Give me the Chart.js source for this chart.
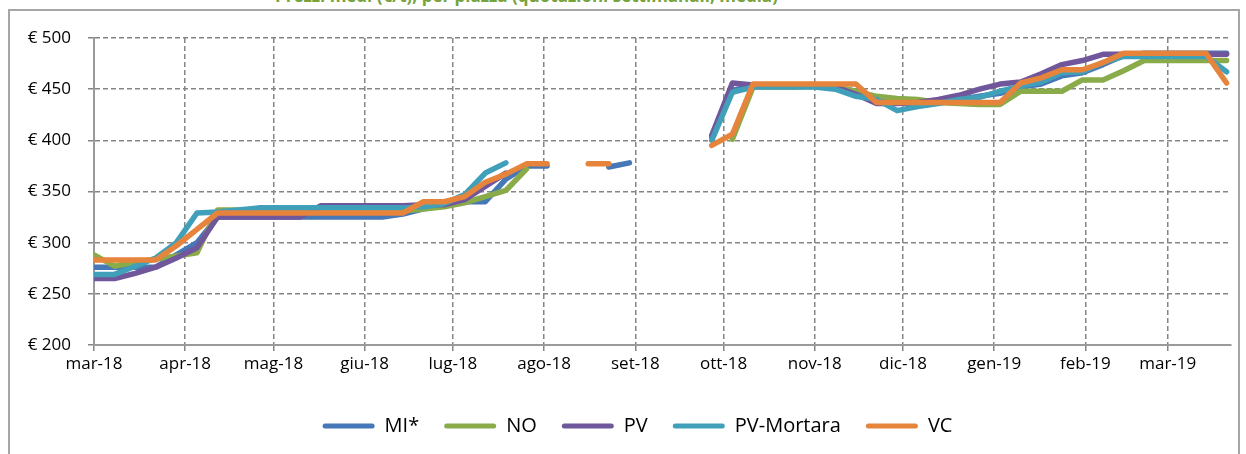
<!DOCTYPE html>
<html lang="it">
<head>
<meta charset="utf-8">
<title>Prezzi settimanali</title>
<script src="https://cdn.jsdelivr.net/npm/chart.js@4.4.1/dist/chart.umd.min.js"></script>
<style>
    html, body { margin: 0; padding: 0; background: #fff; }
    body { width: 1246px; height: 454px; position: relative; overflow: hidden; }
    #frame {
        position: absolute; left: 8px; top: 9px; width: 1232px; height: 470px;
        border: 2px solid #a6a6a6; box-sizing: border-box;
    }
    #title {
        position: absolute; left: 275px; top: -16px; white-space: nowrap;
        font: bold 17px 'Open Sans', sans-serif; color: #77a33c;
    }
    #mainChart { position: absolute; left: 0; top: 0; }
</style>
</head>
<body>
<div id="frame"></div>
<div id="title">Prezzi medi (€/t), per piazza (quotazioni settimanali, media)</div>
<canvas id="mainChart" width="1246" height="454"></canvas>

<script>
// ============================================================
// DATI — settimane (giovedì) e prezzi in €/t per piazza
// ============================================================
const weeks = [
    '2018-03-01', '2018-03-08', '2018-03-15', '2018-03-22', '2018-03-29',
    '2018-04-05', '2018-04-12', '2018-04-19', '2018-04-26',
    '2018-05-03', '2018-05-10', '2018-05-17', '2018-05-24', '2018-05-31',
    '2018-06-07', '2018-06-14', '2018-06-21', '2018-06-28',
    '2018-07-05', '2018-07-12', '2018-07-19', '2018-07-26',
    '2018-08-02', '2018-08-09', '2018-08-16', '2018-08-23', '2018-08-30',
    '2018-09-06', '2018-09-13', '2018-09-20', '2018-09-27',
    '2018-10-04', '2018-10-11', '2018-10-18', '2018-10-25',
    '2018-11-01', '2018-11-08', '2018-11-15', '2018-11-22', '2018-11-29',
    '2018-12-06', '2018-12-13', '2018-12-20', '2018-12-27',
    '2019-01-03', '2019-01-10', '2019-01-17', '2019-01-24', '2019-01-31',
    '2019-02-07', '2019-02-14', '2019-02-21', '2019-02-28',
    '2019-03-07', '2019-03-14', '2019-03-21'
];

const monthTicks = [
    '2018-03-01', '2018-04-01', '2018-05-01', '2018-06-01', '2018-07-01', '2018-08-01', '2018-09-01',
    '2018-10-01', '2018-11-01', '2018-12-01', '2019-01-01', '2019-02-01', '2019-03-01'
];
const monthLabels = ['mar-18', 'apr-18', 'mag-18', 'giu-18', 'lug-18', 'ago-18', 'set-18',
                     'ott-18', 'nov-18', 'dic-18', 'gen-19', 'feb-19', 'mar-19'];
const axisEnd = '2019-03-22';

const yTicks = [200, 250, 300, 350, 400, 450, 500];

const seriesNames = ['MI*', 'NO', 'PV', 'PV-Mortara', 'VC'];

const valuesMI = [
    276, 276, 276, 276, 288, 300, 325, 325, 325, 325, 325, 325, 325, 325, 325,
    328, 333, 336, 340, 340, 362, 375, 375, null, null, 374, 378, null, null, null,
    403, 449, 453, 453, 453, 453, 452, 448, 440, 437, 436, 437, 440, 443, 446,
    452, 455, 463, 466, 474, 483, 485, 485, 485, 485, 485
];
const valuesNO = [
    288, 277, 281, 284, 287, 290, 332, 332, 332, 332, 332, 332, 332, 332, 332,
    331, 333, 335, 339, 345, 351, 372, null, null, null, null, null, null, null, null,
    null, 401, 452, 452, 452, 453, 452, 448, 443, 441, 440, 437, 436, 435, 435,
    448, 448, 448, 459, 459, 468, 478, 478, 478, 478, 478
];
const valuesPV = [
    265, 265, 270, 276, 285, 295, 325, 325, 325, 325, 325, 336, 336, 336, 336,
    336, 337, 337, 342, 355, 368, null, null, null, null, null, null, null, null, null,
    405, 456, 454, 453, 453, 453, 452, 445, 436, 436, 437, 440, 444, 450, 455,
    457, 465, 474, 478, 484, 484, 484, 484, 484, 484, 484
];
const valuesMortara = [
    269, 269, 277, 285, 300, 329, 330, 332, 334, 334, 334, 334, 334, 334, 334,
    334, 335, 338, 347, 368, 378, null, null, null, null, null, null, null, null, null,
    400, 447, 452, 452, 452, 452, 450, 443, 440, 429, 433, 436, 440, 442, 448,
    453, 457, 466, 467, 476, 482, 482, 482, 482, 482, 467
];
const valuesVC = [
    283, 283, 283, 283, 297, 313, 329, 329, 329, 329, 329, 329, 329, 329, 329,
    329, 340, 340, 345, 359, 367, 377, 377, null, 377, 377, null, null, null, null,
    395, 406, 455, 455, 455, 455, 455, 455, 437, 437, 437, 437, 437, 437, 437,
    456, 461, 469, 469, 476, 485, 485, 485, 485, 485, 456
];

const seriesValues = [valuesMI, valuesNO, valuesPV, valuesMortara, valuesVC];
const seriesColors = ['#4677b6', '#8aab4a', '#70569b', '#40a0ba', '#e6843c'];

// ============================================================

const FONT = "'Open Sans', sans-serif";
const GRID = '#858585';
const dayOf = d => (Date.parse(d) - Date.parse(monthTicks[0])) / 86400000;

function buildDatasets() {
    return seriesNames.map((name, s) => ({
        label: name,
        data: weeks.map((w, i) => ({ x: dayOf(w), y: seriesValues[s][i] })),
        borderColor: seriesColors[s],
        backgroundColor: seriesColors[s],
        borderWidth: 5.5,
        borderCapStyle: 'round',
        borderJoinStyle: 'round',
        pointRadius: 0,
        tension: 0,
        spanGaps: false,
        order: seriesNames.length - s   // VC sopra, come in Excel
    }));
}

// la legenda nell'originale è centrata un po' più a destra
const legendShift = {
    id: 'legendShift',
    afterLayout(chart) {
        chart.legend.left += 22;
        chart.legend.right += 22;
    }
};

const ctx = document.getElementById('mainChart').getContext('2d');

const mainChart = new Chart(ctx, {
    type: 'line',
    data: { datasets: buildDatasets() },
    plugins: [legendShift],
    options: {
        responsive: false,
        animation: false,
        devicePixelRatio: 1,
        layout: { padding: { left: 0, right: 15, top: 38, bottom: 8 } },
        plugins: {
            tooltip: { enabled: false },
            legend: {
                position: 'bottom',
                labels: {
                    color: '#000',
                    font: { family: FONT, size: 20 },
                    boxWidth: 52,
                    boxHeight: 5,
                    padding: 25,
                    generateLabels: chart =>
                        Chart.defaults.plugins.legend.labels.generateLabels(chart)
                            .sort((a, b) => a.datasetIndex - b.datasetIndex)
                            .map(l => Object.assign(l, { lineWidth: 0, borderRadius: 2.5 }))
                }
            }
        },
        scales: {
            x: {
                type: 'linear',
                min: 0,
                max: dayOf(axisEnd) + 0.5,
                afterBuildTicks: scale => {
                    scale.ticks = monthTicks.map(d => ({ value: dayOf(d) }));
                },
                afterFit: scale => { scale.height = 46; },
                ticks: {
                    autoSkip: false,
                    maxRotation: 0,
                    padding: 3,
                    color: '#000',
                    font: { family: FONT, size: 17 },
                    callback: (v, i) => monthLabels[i]
                },
                grid: { color: GRID, lineWidth: 1.5, tickLength: 6, tickColor: GRID, tickBorderDash: [] },
                border: { display: true, color: '#9a9a9a', width: 2, dash: [5, 3] }
            },
            y: {
                min: 200,
                max: 500,
                afterBuildTicks: scale => {
                    scale.ticks = yTicks.map(v => ({ value: v }));
                },
                afterFit: scale => { scale.width = 94; },
                ticks: {
                    padding: 17,
                    color: '#000',
                    font: { family: FONT, size: 17 },
                    callback: v => '€ ' + v
                },
                grid: { color: GRID, lineWidth: 1.5, tickLength: 6, tickColor: GRID, tickBorderDash: [] },
                border: { display: true, color: '#9a9a9a', width: 2, dash: [5, 3] }
            }
        }
    }
});
</script>
</body>
</html>
